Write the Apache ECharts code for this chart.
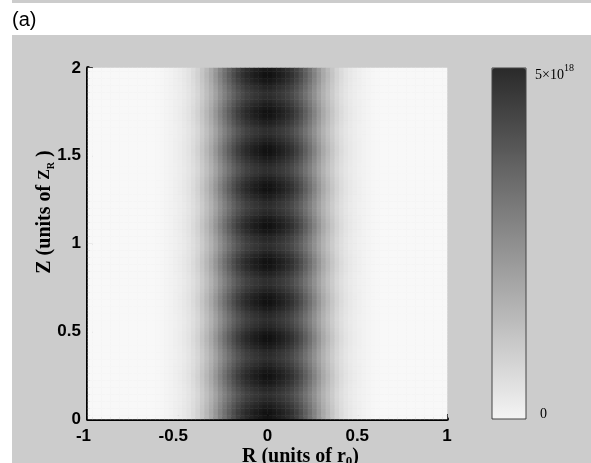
<!DOCTYPE html>
<html>
<head>
<meta charset="utf-8">
<script src="https://cdn.jsdelivr.net/npm/echarts@6/dist/echarts.min.js"></script>
<style>
  html, body { margin: 0; padding: 0; background: #fff; }
  #graph { width: 591px; height: 463px; }
</style>
</head>
<body>
<div id="graph"></div>
<script>
// intensity across R (units 1e18), cell centres -0.9875 .. 0.9875, step 0.025
var radialProfile = [
  0, 0, 0, 0, 0, 0, 0, 0, 0, 0, 0, 0, 0, 0,
  0.01, 0.03, 0.05, 0.09, 0.14, 0.20, 0.26, 0.35, 0.46, 0.62,
  0.82, 1.10, 1.40, 1.72, 2.12, 2.55, 2.95, 3.33, 3.70, 4.02,
  4.28, 4.49, 4.64, 4.76, 4.88, 4.98,
  4.98, 4.88, 4.76, 4.64, 4.49, 4.28, 4.02, 3.70, 3.33, 2.95,
  2.55, 2.12, 1.72, 1.40, 1.10, 0.82, 0.62, 0.46, 0.35, 0.26,
  0.20, 0.14, 0.09, 0.05, 0.03, 0.01,
  0, 0, 0, 0, 0, 0, 0, 0, 0, 0, 0, 0, 0, 0
];

// relative brightness along Z, cell centres 0.01 .. 1.99, step 0.02
var zModulation = [
  0.99, 1.00, 0.99, 0.96, 0.93, 0.90, 0.88, 0.88, 0.91, 0.94,
  0.97, 0.99, 1.00, 0.98, 0.95, 0.92, 0.89, 0.88, 0.89, 0.91,
  0.95, 0.98, 1.00, 1.00, 0.98, 0.94, 0.91, 0.89, 0.88, 0.90,
  0.92, 0.96, 0.99, 1.00, 0.99, 0.97, 0.93, 0.90, 0.88, 0.88,
  0.90, 0.93, 0.97, 0.99, 1.00, 0.99, 0.96, 0.92, 0.89, 0.88,
  0.89, 0.91, 0.94, 0.98, 1.00, 1.00, 0.98, 0.95, 0.91, 0.89,
  0.88, 0.89, 0.92, 0.95, 0.98, 1.00, 0.99, 0.97, 0.94, 0.90,
  0.88, 0.88, 0.90, 0.93, 0.96, 0.99, 1.00, 0.99, 0.96, 0.93,
  0.90, 0.88, 0.88, 0.91, 0.94, 0.97, 0.99, 1.00, 0.98, 0.95,
  0.92, 0.89, 0.88, 0.89, 0.92, 0.95, 0.98, 1.00, 1.00, 0.98
];

var rTicks = [-1, -0.5, 0, 0.5, 1];
var zTicks = [0, 0.5, 1, 1.5, 2];
var barLabels = ['0', '5×10', '18'];

var rCells = radialProfile.map(function (v, i) { return 'r' + i; });
var zCells = zModulation.map(function (v, i) { return 'z' + i; });

var cells = [];
for (var j = 0; j < radialProfile.length; j++) {
  for (var i = 0; i < zModulation.length; i++) {
    cells.push([j, i, +(radialProfile[j] * zModulation[i]).toFixed(3)]);
  }
}

var gray = '#cccccc';
var tickFont = { fontFamily: 'Liberation Sans', fontWeight: 'bold', fontSize: 17, color: '#000' };
var serif = 'Liberation Serif';

var myChart = echarts.init(document.getElementById('graph'), null, { renderer: 'canvas' });

var option = {
  backgroundColor: '#fff',
  animation: false,
  title: {
    text: '(a)',
    left: 12,
    top: 10,
    padding: 0,
    textStyle: { fontFamily: 'Liberation Sans', fontWeight: 'normal', fontSize: 20, color: '#000' }
  },
  graphic: [
    { type: 'rect', z: -10, shape: { x: 12, y: 0, width: 579, height: 3 }, style: { fill: gray } },
    { type: 'rect', z: -10, shape: { x: 12, y: 35, width: 579, height: 428 }, style: { fill: gray } }
  ],
  grid: [
    { left: 88, top: 68, width: 359, height: 351, outerBoundsMode: 'none' },
    { left: 492, top: 68, width: 34, height: 351, show: true, z: 10, outerBoundsMode: 'none',
      borderColor: '#444', borderWidth: 1, backgroundColor: 'transparent' },
    { left: 492, top: 73, width: 34, height: 341, outerBoundsMode: 'none' }
  ],
  xAxis: [
    { type: 'category', gridIndex: 0, data: rCells, show: false },
    {
      type: 'value', gridIndex: 0, position: 'bottom', min: rTicks[0], max: rTicks[4], interval: 0.5,
      splitLine: { show: false },
      axisLine: { lineStyle: { color: '#000', width: 4 } },
      axisTick: { inside: true, length: 5, lineStyle: { color: '#000', width: 2 } },
      axisLabel: Object.assign({}, tickFont, {
        margin: 9,
        formatter: function (v) { return v < 0 ? '{n|' + v + '}' : String(v); },
        rich: { n: Object.assign({}, tickFont, { padding: [0, 9, 0, 0] }) }
      }),
      name: '{t|R (units of r}{s|0}{t|)}',
      nameLocation: 'middle',
      nameGap: 27,
      nameMoveOverlap: false,
      nameTextStyle: {
        padding: [0, 0, 0, 66],
        rich: {
          t: { fontFamily: serif, fontWeight: 'bold', fontSize: 20, lineHeight: 22, color: '#000' },
          s: { fontFamily: serif, fontWeight: 'bold', fontSize: 13, verticalAlign: 'bottom', color: '#000' }
        }
      }
    },
    { type: 'value', gridIndex: 1, show: false },
    { type: 'value', gridIndex: 2, show: false }
  ],
  yAxis: [
    { type: 'category', gridIndex: 0, data: zCells, show: false },
    {
      type: 'value', gridIndex: 0, position: 'left', min: zTicks[0], max: zTicks[4], interval: 0.5,
      splitLine: { show: false },
      axisLine: { lineStyle: { color: '#000', width: 4 } },
      axisTick: { inside: true, length: 5, lineStyle: { color: '#000', width: 2 } },
      axisLabel: Object.assign({}, tickFont, { margin: 7 }),
      name: '{t|Z (units of }{z|Z}{s|R}{t| )}',
      nameLocation: 'middle',
      nameGap: 32,
      nameMoveOverlap: false,
      nameTextStyle: {
        padding: [0, 0, 0, 63],
        rich: {
          t: { fontFamily: serif, fontWeight: 'bold', fontSize: 20, lineHeight: 22, color: '#000' },
          z: { fontFamily: serif, fontWeight: 'bold', fontSize: 16, color: '#000' },
          s: { fontFamily: serif, fontWeight: 'bold', fontSize: 10, verticalAlign: 'bottom', color: '#000' }
        }
      }
    },
    { type: 'value', gridIndex: 1, show: false },
    {
      type: 'value', gridIndex: 2, position: 'right', min: 0, max: 5, interval: 5,
      splitLine: { show: false },
      axisLine: { show: false },
      axisTick: { show: false },
      axisLabel: {
        margin: 9,
        formatter: function (v) {
          return v === 0 ? '{z|' + barLabels[0] + '}' : '{b|' + barLabels[1] + '}{p|' + barLabels[2] + '}';
        },
        rich: {
          z: { fontFamily: serif, fontSize: 14, color: '#000', padding: [0, 0, 0, 5] },
          b: { fontFamily: serif, fontSize: 14, color: '#000', lineHeight: 19, verticalAlign: 'bottom' },
          p: { fontFamily: serif, fontSize: 10, color: '#000', verticalAlign: 'top' }
        }
      }
    }
  ],
  visualMap: {
    type: 'continuous',
    seriesIndex: 0,
    min: 0,
    max: 5,
    calculable: false,
    hoverLink: false,
    left: 492,
    top: 68,
    padding: 0,
    itemWidth: 34,
    itemHeight: 351,
    text: null,
    inRange: { color: ['#f8f8f8', '#111111'] },
    controller: { inRange: { color: ['#f4f4f4', '#2a2a2a'] } }
  },
  series: [{
    type: 'heatmap',
    xAxisIndex: 0,
    yAxisIndex: 0,
    data: cells,
    progressive: 0,
    emphasis: { disabled: true },
    itemStyle: { borderWidth: 0 }
  }]
};

myChart.setOption(option);
</script>
</body>
</html>
